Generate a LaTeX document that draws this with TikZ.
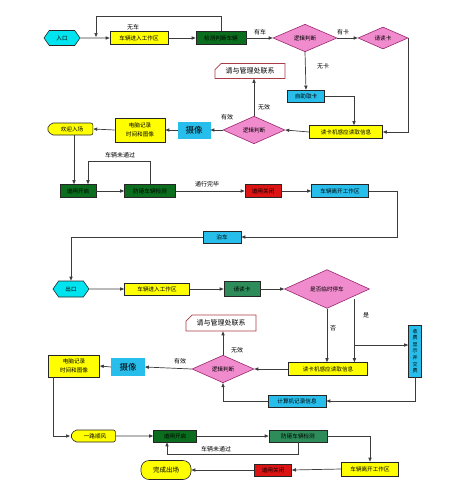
\documentclass[tikz,border=0pt]{standalone}
\usepackage{fontspec}
\newfontfamily\cjk{Noto Sans CJK SC}
\usetikzlibrary{shapes.geometric,shapes.symbols,shapes.misc,arrows.meta,calc}
\definecolor{cyanA}{RGB}{0,228,240}
\definecolor{cyanB}{RGB}{40,190,235}
\definecolor{yelA}{RGB}{255,255,0}
\definecolor{dgreen}{RGB}{10,110,30}
\definecolor{tgreen}{RGB}{45,140,90}
\definecolor{pinkD}{RGB}{240,140,205}
\definecolor{purpB}{RGB}{150,40,110}
\definecolor{redA}{RGB}{220,20,20}
\definecolor{contB}{RGB}{170,60,70}
\definecolor{lineC}{RGB}{60,60,60}
\tikzset{
  base/.style={draw=black!85, line width=0.6pt, inner sep=0pt, font=\cjk\fontsize{5.6}{6.5}\selectfont, minimum height=13pt},
  ybox/.style={base, fill=yelA},
  cbox/.style={base, fill=cyanB},
  gbox/.style={base, fill=dgreen},
  tbox/.style={base, fill=tgreen},
  rbox/.style={base, fill=redA},
  hexa/.style={base, fill=cyanA, signal, signal to=west and east, signal pointer angle=110},
  endl/.style={base, fill=yelA, signal, signal to=west, signal pointer angle=110, rounded corners=2pt},
  dia/.style={base, diamond, fill=pinkD, draw=purpB},
  contact/.style={base, fill=white, draw=contB, chamfered rectangle, chamfered rectangle corners=north west, chamfered rectangle xsep=4pt, font=\cjk\fontsize{7}{8}\selectfont},
  camb/.style={base, fill=cyanB, draw=cyanB, font=\cjk\fontsize{8.5}{9}\selectfont},
  arr/.style={draw=lineC, line width=0.7pt, -{Triangle[length=4pt,width=3.2pt]}},
  ln/.style={draw=lineC, line width=0.7pt},
  lab/.style={font=\cjk\fontsize{6}{7}\selectfont, inner sep=0pt}
}
\begin{document}
\begin{tikzpicture}[x=1pt,y=-1pt]
\useasboundingbox (0,0) rectangle (455,498);
% ---------- entry section ----------
\node[hexa, minimum width=36pt, minimum height=15pt] (in1) at (62,38) {入口};
\node[ybox, minimum width=58pt] (car1) at (139,38) {车辆进入工作区};
\node[gbox, minimum width=50pt] (det1) at (221,38) {检测判断车辆};
\node[dia, minimum width=64pt, minimum height=20pt] (log1) at (305,38) {逻辑判断};
\node[dia, minimum width=50pt, minimum height=18pt] (card1) at (383,38) {请读卡};
\node[cbox, minimum width=37pt, minimum height=12pt] (qu1) at (306,96) {自助取卡};
\node[ybox, minimum width=73pt] (read1) at (346,132) {读卡机感应读取信息};
\node[dia, minimum width=62pt, minimum height=18pt] (log2) at (254,130) {逻辑判断};
\node[contact, minimum width=70pt, minimum height=15pt] (cont1) at (250,71) {请与管理处联系};
\node[camb, minimum width=32pt, minimum height=16pt] (cam1) at (194,130) {摄像};
\node[ybox, minimum width=50pt, minimum height=24pt, align=center] (rec1) at (140,130) {电脑记录\\[2pt]时间和图像};
\node[endl, minimum width=46pt, minimum height=12pt] (wel1) at (72,129) {欢迎入场};
\node[gbox, minimum width=36pt] (gate1) at (78,191) {道闸开启};
\node[gbox, minimum width=51pt] (chk1) at (150,191) {防砸车辆检测};
\node[rbox, minimum width=36pt] (close1) at (263,191) {道闸关闭};
\node[cbox, minimum width=57pt] (leave1) at (340,191) {车辆离开工作区};
\node[cbox, minimum width=38pt, minimum height=12pt] (park) at (222,237) {泊车};
% ---------- exit section ----------
\node[hexa, minimum width=36pt, minimum height=16pt] (out) at (71,289) {出口};
\node[ybox, minimum width=65pt, minimum height=12pt] (car2) at (157,289) {车辆进入工作区};
\node[tbox, minimum width=36pt, minimum height=15pt] (rd2) at (242,289) {请读卡};
\node[dia, minimum width=85pt, minimum height=21pt] (tmp) at (327,289) {是否临时停车};
\node[ybox, minimum width=79pt, minimum height=13pt] (read2) at (328,369) {读卡机感应读取信息};
\node[cbox, minimum width=13pt, minimum height=52pt, align=center, font=\cjk\fontsize{5}{6.6}\selectfont] (pay) at (415,351) {收\\费\\显\\示\\并\\交\\费};
\node[cbox, minimum width=58pt, minimum height=12pt] (comp) at (297,401) {计算机记录信息};
\node[dia, minimum width=62pt, minimum height=16pt] (log3) at (223,369) {逻辑判断};
\node[contact, minimum width=70pt, minimum height=16pt] (cont2) at (221,323) {请与管理处联系};
\node[camb, minimum width=33pt, minimum height=17pt] (cam2) at (128,367) {摄像};
\node[ybox, minimum width=51pt, minimum height=22pt, align=center] (rec2) at (74,366) {电脑记录\\[2pt]时间和图像};
\node[endl, minimum width=45pt, minimum height=12pt] (bye) at (95,436) {一路顺风};
\node[gbox, minimum width=43pt, minimum height=12pt] (gate2) at (175,436) {道闸开启};
\node[tbox, minimum width=58pt, minimum height=12pt] (chk2) at (298,436) {防砸车辆检测};
\node[ybox, minimum width=57pt, minimum height=14pt] (leave2) at (370,469) {车辆离开工作区};
\node[rbox, minimum width=37pt, minimum height=12pt] (close2) at (273,470) {道闸关闭};
\node[base, fill=yelA, rounded corners=8pt, minimum width=50pt, minimum height=19pt, font=\cjk\fontsize{6.5}{7}\selectfont] (done) at (166,470) {完成出场};
% ---------- connectors: entry ----------
\coordinate (j1) at (96,37);
\draw[arr] (in1) -- (car1);
\draw[arr] (car1) -- (det1);
\draw[arr] (det1.north) |- (96,16) -- (j1);
\draw[arr] (det1) -- (log1);
\draw[arr] (log1) -- (card1);
\draw[arr] (log1.south) -- (qu1.north);
\draw[arr] (qu1.east) -| ([xshift=8pt]read1.north);
\draw[arr] (card1.east) |- (read1.east);
\draw[arr] (read1.west) -- (log2.east);
\draw[arr] (log2.north) -- (log2.north |- cont1.south);
\draw[arr] (log2.west) -- (cam1.east);
\draw[arr] (cam1.west) -- (rec1.east);
\draw[arr] (rec1.west) -- (wel1.east);
\draw[arr] ([xshift=2pt]wel1.south) -- ([xshift=2pt]wel1.south |- gate1.north);
\draw[arr] (chk1.north) |- (88,161) -- ([xshift=10pt]gate1.north);
\draw[arr] (gate1) -- (chk1);
\draw[arr] (chk1) -- (close1);
\draw[arr] (close1) -- (leave1);
\draw[arr] (leave1.east) -- (397,191) |- (park.east);
\draw[arr] (park.west) -| (out.north);
% ---------- connectors: exit ----------
\path ([xshift=6pt]tmp.south east) coordinate (ys0);
\coordinate (h345) at (0,345);
\coordinate (ys) at (ys0 |- h345);
\draw[arr] (out) -- (car2);
\draw[arr] (car2) -- (rd2);
\draw[arr] (rd2) -- (tmp);
\draw[arr] (tmp.south) -- (tmp.south |- read2.north);
\draw[arr] (ys0) -- (ys0 |- read2.north);
\draw[arr] (ys) -- (ys -| pay.west);
\draw[arr] (pay.south) |- (comp.east);
\draw[arr] (comp.west) -| (log3.south);
\draw[arr] (read2.west) -- (log3.east);
\draw[arr] (log3.north) -- (log3.north |- cont2.south);
\draw[arr] (log3.west) -- (cam2.east);
\draw[arr] (cam2.west) -- (rec2.east);
\draw[arr] ([xshift=5pt]rec2.south west) |- (bye.west);
\draw[arr] (bye) -- (gate2);
\draw[arr] (gate2) -- (chk2);
\draw[arr] (chk2.east) -| (leave2.north);
\draw[arr] (chk2.south) |- (167,454) -- ([xshift=-8pt]gate2.south);
\draw[arr] (leave2.west) -- (close2.east);
\draw[arr] (close2.west) -- (done.east);
% ---------- labels ----------
\node[lab] (l1) at (133,27) {无车};
\node[lab] (l2) at (260,32) {有车};
\node[lab] (l3) at (343,32) {有卡};
\node[lab] (l4) at (323,66) {无卡};
\node[lab] (l5) at (264,107) {无效};
\node[lab] (l6) at (227,117) {有效};
\node[lab] (l7) at (120,155) {车辆未通过};
\node[lab] (l8) at (207,184) {通行完毕};
\node[lab] (l9) at (333,328) {否};
\node[lab] (l10) at (366,315) {是};
\node[lab] (l11) at (237,350) {无效};
\node[lab] (l12) at (180,361) {有效};
\node[lab] (l13) at (216,449) {车辆未通过};
\end{tikzpicture}
\end{document}
